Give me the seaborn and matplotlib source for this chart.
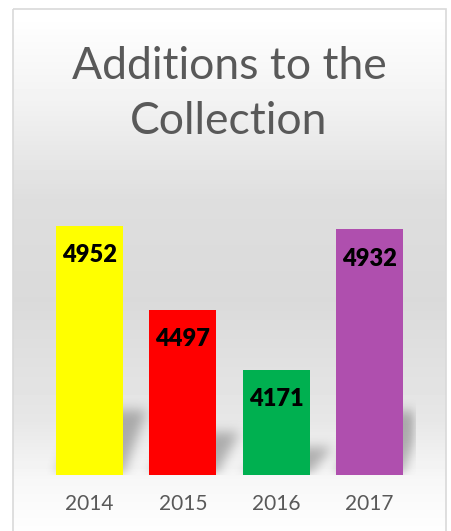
import matplotlib
matplotlib.use("Agg")
import matplotlib.pyplot as plt
import numpy as np
import pandas as pd
import seaborn as sns
from matplotlib.patches import Rectangle

years = ["2014", "2015", "2016", "2017"]
additions = [4952, 4497, 4171, 4932]
bar_colors = ["#FFFF00", "#FF0000", "#00B050", "#AF4FAE"]
title_lines = ["Additions to the", "Collection"]
y_min, y_max = 3600, 5200

sns.set_theme(style="white")
plt.rcParams["font.family"] = ["Lato", "DejaVu Sans"]

W, H = 451, 531
fig = plt.figure(figsize=(W / 100, H / 100), dpi=100)

# background gradient (white -> grey -> white), Excel style
bg = fig.add_axes([0, 0, 1, 1], zorder=-2)
rows = np.arange(H)
stops_y = [0, 15, 100, 200, 300, 420, 480, 531]
stops_v = [1.0, 1.0, 0.95, 0.87, 0.855, 0.905, 0.97, 0.995]
shade = np.interp(rows, stops_y, stops_v)
grad = np.repeat(shade[:, None], W, axis=1)
bg.imshow(grad, cmap="gray", vmin=0, vmax=1, aspect="auto",
          extent=[0, W, H, 0], interpolation="bilinear")
bg.set_xlim(0, W)
bg.set_ylim(H, 0)
bg.add_patch(Rectangle((0, 0), W, 9, color="white", lw=0))
bg.add_patch(Rectangle((0, 0), 13, H, color="white", lw=0))
bg.add_patch(Rectangle((446, 0), 5, H, color="white", lw=0))
bg.add_patch(Rectangle((13, 9), 433, H, fill=False, ec="#d9d9d9", lw=1.2))
bg.axis("off")

ax = fig.add_axes([43 / W, (H - 475) / H, 373 / W, 295 / H])
ax.set_facecolor("none")

df = pd.DataFrame({"year": years, "additions": additions})
sns.barplot(data=df, x="year", y="additions", hue="year",
            palette=bar_colors, width=0.72, legend=False,
            saturation=1, linewidth=0, ax=ax, zorder=3)


def blur(a, r, passes=3):
    k = np.ones(2 * r + 1) / (2 * r + 1)
    for _ in range(passes):
        a = np.apply_along_axis(lambda m: np.convolve(m, k, mode="same"), 0, a)
        a = np.apply_along_axis(lambda m: np.convolve(m, k, mode="same"), 1, a)
    return a


# soft perspective shadow cast behind the bars
nx, ny = 373, 295
gx = np.linspace(-0.5, 3.5, nx)
gy = np.linspace(y_min, y_max, ny)
X, Y = np.meshgrid(gx, gy)
mask = np.zeros_like(X)
for i, v in enumerate(additions):
    h = 0.26 * (v - y_min)
    t = (Y - y_min) / h
    left = i - 0.36 + 0.25 * t
    right = i + 0.36 + 0.25 * t
    inside = (t >= 0) & (t <= 1) & (X >= left) & (X <= right)
    mask[inside] = 1.0
mask = blur(mask, 5)
rgba = np.zeros((ny, nx, 4))
rgba[..., :3] = 0.42
rgba[..., 3] = 0.5 * mask
ax.imshow(rgba, extent=[-0.5, 3.5, y_min, y_max], origin="lower",
          aspect="auto", zorder=1, interpolation="bilinear")

for i, v in enumerate(additions):
    ax.annotate(f"{v}", (i, v), xytext=(0, -21), textcoords="offset points",
                ha="center", va="center", fontsize=17, fontweight="heavy",
                color="black", zorder=4)

ax.set_ylim(y_min, y_max)
ax.set_xlim(-0.5, 3.5)
ax.set_xlabel("")
ax.set_ylabel("")
ax.set_yticks([])
ax.tick_params(axis="x", length=0, pad=14, labelsize=15, labelcolor="#595959")
sns.despine(ax=ax, left=True, bottom=True)

fig.text(229 / W, 1 - 79 / H, title_lines[0], ha="center", va="baseline",
         fontsize=32, color="#595959")
fig.text(229 / W, 1 - 134 / H, title_lines[1], ha="center", va="baseline",
         fontsize=32, color="#595959")

fig.savefig("out.png", dpi=100)
